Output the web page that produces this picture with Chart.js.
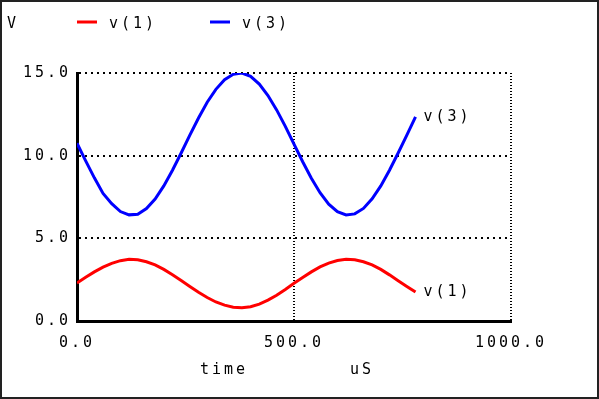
<!DOCTYPE html>
<html>
<head>
<meta charset="utf-8">
<style>
  html, body { margin: 0; padding: 0; background: #fff; }
  #wrap { width: 599px; height: 399px; position: relative; }
  canvas { display: block; }
</style>
<script src="https://cdn.jsdelivr.net/npm/chart.js@4/dist/chart.umd.min.js"></script>
</head>
<body>
<div id="wrap"><canvas id="c" width="599" height="399"></canvas></div>
<script>
// time in microseconds
const timeUs = [0, 20, 40, 60, 80, 100, 120, 140, 160, 180, 200, 220, 240, 260, 280, 300, 320, 340, 360, 380,
                400, 420, 440, 460, 480, 500, 520, 540, 560, 580, 600, 620, 640, 660, 680, 700, 720, 740, 760, 780];
const v1 = [2.30, 2.64, 2.97, 3.26, 3.49, 3.65, 3.73, 3.70, 3.58, 3.39, 3.12, 2.80, 2.45, 2.09, 1.74, 1.42, 1.15, 0.96, 0.83, 0.80,
            0.86, 1.02, 1.26, 1.56, 1.91, 2.28, 2.63, 2.97, 3.27, 3.50, 3.66, 3.74, 3.70, 3.58, 3.39, 3.12, 2.79, 2.44, 2.09, 1.75];
const v3 = [10.75, 9.68, 8.66, 7.72, 7.10, 6.62, 6.42, 6.46, 6.80, 7.38, 8.17, 9.12, 10.16, 11.24, 12.28, 13.23, 14.01, 14.59, 14.92, 15.00,
            14.80, 14.33, 13.64, 12.77, 11.77, 10.70, 9.63, 8.63, 7.76, 7.07, 6.61, 6.41, 6.48, 6.81, 7.39, 8.17, 9.12, 10.16, 11.24, 12.34];
const seriesNames = ['v(1)', 'v(3)'];
const seriesColors = ['#ff0000', '#0000ff'];
const yTicks = [0, 5, 10, 15];
const xTicks = [0, 500, 1000];
const yUnit = 'V';
const xTitle = 'time';
const xUnit = 'uS';

const FAMILY = '"DejaVu Sans Mono", "Liberation Mono", monospace';
const FONT = '15px ' + FAMILY;
const SPACING = '3px';

const decoPlugin = {
  id: 'deco',
  beforeLayout(chart) { chart.ctx.letterSpacing = SPACING; },
  beforeDraw(chart) {
    const ctx = chart.ctx;
    ctx.save();
    ctx.fillStyle = '#fff';
    ctx.fillRect(0, 0, chart.width, chart.height);
    ctx.restore();
    ctx.letterSpacing = SPACING;
  },
  afterDraw(chart) {
    const ctx = chart.ctx;
    const xs = chart.scales.x, ys = chart.scales.y;
    ctx.save();
    ctx.letterSpacing = SPACING;
    ctx.font = FONT;
    ctx.fillStyle = '#000';
    ctx.textBaseline = 'middle';
    ctx.textAlign = 'left';
    // unit label
    ctx.fillText(yUnit, 7, 24);
    // legend
    const legendX = [77, 210];
    seriesNames.forEach((n, i) => {
      ctx.strokeStyle = seriesColors[i];
      ctx.lineWidth = 3;
      ctx.beginPath();
      ctx.moveTo(legendX[i], 22);
      ctx.lineTo(legendX[i] + 20, 22);
      ctx.stroke();
      ctx.fillStyle = '#000';
      ctx.fillText(n, legendX[i] + 32, 24);
    });
    // x titles
    ctx.fillText(xTitle, 200, 370);
    ctx.fillText(xUnit, 350, 370);
    // end-of-curve labels
    const ends = [v1, v3];
    ends.forEach((arr, i) => {
      const px = xs.getPixelForValue(timeUs[timeUs.length - 1]);
      const py = ys.getPixelForValue(arr[arr.length - 1]);
      ctx.fillText(seriesNames[i], px + 8, py);
    });
    // outer frame
    ctx.strokeStyle = '#222';
    ctx.lineWidth = 2;
    ctx.strokeRect(1, 1, chart.width - 2, chart.height - 2);
    ctx.restore();
  }
};

new Chart(document.getElementById('c'), {
  type: 'line',
  data: {
    datasets: [
      { label: seriesNames[0], data: timeUs.map((t, i) => ({ x: t, y: v1[i] })), borderColor: seriesColors[0], borderWidth: 3, pointRadius: 0, tension: 0, fill: false },
      { label: seriesNames[1], data: timeUs.map((t, i) => ({ x: t, y: v3[i] })), borderColor: seriesColors[1], borderWidth: 3, pointRadius: 0, tension: 0, fill: false }
    ]
  },
  options: {
    responsive: false,
    animation: false,
    devicePixelRatio: 1,
    layout: { padding: { left: 0, top: 73, right: 88, bottom: 0 } },
    plugins: { legend: { display: false }, tooltip: { enabled: false } },
    scales: {
      x: {
        type: 'linear', min: 0, max: 1000,
        afterBuildTicks(s) { s.ticks = xTicks.map(v => ({ value: v })); },
        afterFit(s) { s.height = 78; },
        ticks: { color: '#000', font: { family: FAMILY, size: 15 }, padding: 13, maxRotation: 0,
                 callback: v => v.toFixed(1) },
        grid: { color: '#000', lineWidth: 2, drawTicks: false },
        border: { color: '#000', width: 3, dash: [1, 2] }
      },
      y: {
        type: 'linear', min: 0, max: 15,
        afterBuildTicks(s) { s.ticks = yTicks.map(v => ({ value: v })); },
        afterFit(s) { s.width = 77; },
        ticks: { color: '#000', font: { family: FAMILY, size: 15 }, padding: 6,
                 callback: v => v.toFixed(1) },
        grid: { color: '#000', lineWidth: 2, drawTicks: false },
        border: { color: '#000', width: 3, dash: [2, 4] }
      }
    }
  },
  plugins: [decoPlugin]
});
</script>
</body>
</html>
